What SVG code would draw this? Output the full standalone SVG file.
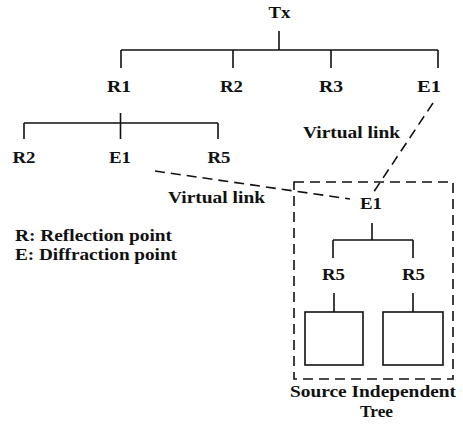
<svg xmlns="http://www.w3.org/2000/svg" width="463" height="427" viewBox="0 0 463 427">
<style>
text{font-family:"Liberation Serif","Times New Roman",serif;font-weight:bold;font-size:17px;fill:#111}
.ln{stroke:#111;stroke-width:1.6;fill:none}
.dash{stroke:#111;stroke-width:1.6;fill:none;stroke-dasharray:10 6}
</style>
<rect width="463" height="427" fill="#fff"/>
<g id="connectors">
<path class="ln" d="M279,31V50M121,50H438M121,50V68M233,50V68M331,50V68M438,50V68"/>
<path class="ln" d="M120.5,113V139M24,123H218M24,123V139M218,123V139"/>
<path class="ln" d="M372,223V240M333,240H413M333,240V258M413,240V258"/>
<path class="ln" d="M334,293V312M413,293V312"/>
<path class="dash" d="M155,171L350,199"/>
<path class="dash" d="M433,103L371,196"/>
</g>
<g id="node-tx"><text x="268.5" y="18" textLength="22" lengthAdjust="spacingAndGlyphs">Tx</text></g>
<g id="node-r1"><text x="107" y="92" textLength="24" lengthAdjust="spacingAndGlyphs">R1</text></g>
<g id="node-r2"><text x="220" y="92" textLength="23" lengthAdjust="spacingAndGlyphs">R2</text></g>
<g id="node-r3"><text x="319" y="92" textLength="24" lengthAdjust="spacingAndGlyphs">R3</text></g>
<g id="node-e1-top"><text x="417" y="92" textLength="24" lengthAdjust="spacingAndGlyphs">E1</text></g>
<g id="node-r2-left"><text x="12.5" y="163" textLength="23" lengthAdjust="spacingAndGlyphs">R2</text></g>
<g id="node-e1-left"><text x="109" y="163" textLength="22" lengthAdjust="spacingAndGlyphs">E1</text></g>
<g id="node-r5-left"><text x="207.5" y="163" textLength="23" lengthAdjust="spacingAndGlyphs">R5</text></g>
<g id="label-virtual-top"><text x="303" y="138" textLength="97" lengthAdjust="spacingAndGlyphs">Virtual link</text></g>
<g id="label-virtual-bottom"><text x="168" y="203" textLength="97" lengthAdjust="spacingAndGlyphs">Virtual link</text></g>
<g id="legend">
<text x="15" y="241" textLength="157" lengthAdjust="spacingAndGlyphs">R: Reflection point</text>
<text x="15" y="260" textLength="162" lengthAdjust="spacingAndGlyphs">E: Diffraction point</text>
</g>
<g id="source-independent-tree">
<rect class="dash" x="294" y="182" width="159" height="197"/>
<text x="290" y="397" textLength="166" lengthAdjust="spacingAndGlyphs">Source Independent</text>
<text x="360" y="417" textLength="33" lengthAdjust="spacingAndGlyphs">Tree</text>
</g>
<g id="node-e1-box"><text x="360" y="209" textLength="22" lengthAdjust="spacingAndGlyphs">E1</text></g>
<g id="node-r5-box-left"><text x="322" y="280" textLength="23" lengthAdjust="spacingAndGlyphs">R5</text></g>
<g id="node-r5-box-right"><text x="402" y="280" textLength="23" lengthAdjust="spacingAndGlyphs">R5</text></g>
<g id="subtree-left"><rect class="ln" x="305" y="312" width="58" height="53"/></g>
<g id="subtree-right"><rect class="ln" x="383" y="312" width="60" height="53"/></g>
</svg>
